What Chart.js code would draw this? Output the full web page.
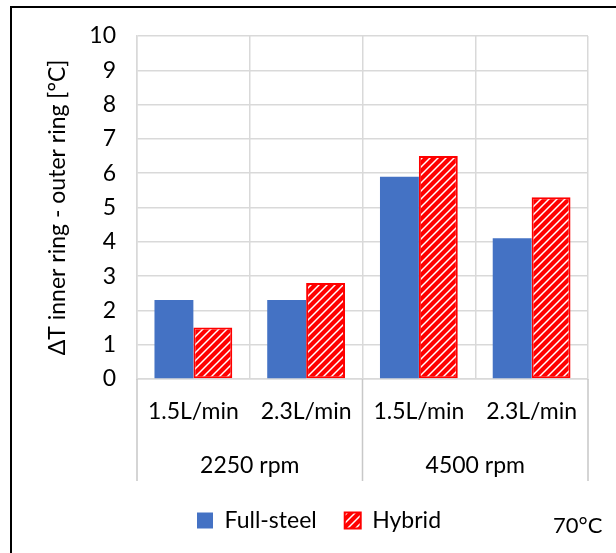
<!DOCTYPE html>
<html><head><meta charset="utf-8">
<script src="https://cdn.jsdelivr.net/npm/chart.js@4/dist/chart.umd.min.js"></script>
<style>
html,body{margin:0;padding:0;background:#fff;width:616px;height:553px;overflow:hidden}
#wrap{position:absolute;left:0;top:0;width:616px;height:553px}
#frame{position:absolute;left:10px;top:6px;width:640px;height:600px;border-left:2px solid #000;border-top:2px solid #000;pointer-events:none}
#note{position:absolute;left:553px;top:511px;font:22px Lato;color:#000;white-space:nowrap}
</style></head><body>
<div id="wrap"><canvas id="c" width="616" height="553"></canvas></div>
<div id="frame"></div>
<div id="note">70°C</div>
<script>
const categories = ['1.5L/min', '2.3L/min', '1.5L/min', '2.3L/min'];
const groups = ['2250 rpm', '4500 rpm'];
const seriesNames = ['Full-steel', 'Hybrid'];
const fullSteel = [2.3, 2.3, 5.9, 4.1];
const hybrid = [1.5, 2.8, 6.5, 5.3];
const yTitle = 'ΔT inner ring - outer ring [°C]';
const yMin = 0, yMax = 10, yStep = 1;

function hatch() {
  const s = 8;
  const t = document.createElement('canvas');
  t.width = s; t.height = s;
  const g = t.getContext('2d');
  g.fillStyle = '#ffffff';
  g.fillRect(0, 0, s, s);
  g.strokeStyle = '#ff0000';
  g.lineWidth = 4.2;
  g.lineCap = 'square';
  g.beginPath();
  for (const o of [-s, 0, s]) {
    g.moveTo(o - 1, s + 1); g.lineTo(o + s + 1, -1);
  }
  g.stroke();
  return g.createPattern(t, 'repeat');
}

const FONT = 'Lato';
const FS = 23;
const GRID = '#d9d9d9';

const separators = {
  id: 'separators',
  afterDraw(chart) {
    const x = chart.scales.x, x2 = chart.scales.x2;
    const ctx = chart.ctx;
    const mid = (x.getPixelForValue(1) + x.getPixelForValue(2)) / 2;
    ctx.save();
    ctx.strokeStyle = '#c8c8c8';
    ctx.lineWidth = 1.5;
    ctx.beginPath();
    for (const px of [x.left, mid, x.right]) {
      ctx.moveTo(px, x.top);
      ctx.lineTo(px, x2.bottom);
    }
    ctx.stroke();
    ctx.restore();
  }
};

new Chart(document.getElementById('c'), {
  type: 'bar',
  data: {
    labels: categories,
    datasets: [
      { label: seriesNames[0], data: fullSteel, backgroundColor: '#4472c4', borderWidth: 0, xAxisID: 'x' },
      { label: seriesNames[1], data: hybrid, backgroundColor: hatch(), borderColor: '#ff0000', borderWidth: 2, borderSkipped: false, xAxisID: 'x' }
    ]
  },
  options: {
    responsive: false,
    devicePixelRatio: 1,
    animation: false,
    datasets: { bar: { categoryPercentage: 0.69, barPercentage: 1 } },
    layout: { padding: { left: 50, right: 28, top: 36, bottom: 11 } },
    scales: {
      y: {
        min: yMin, max: yMax,
        afterFit(s) { s.width = 87; },
        ticks: { stepSize: yStep, color: '#000', font: { family: FONT, size: FS }, padding: 21 },
        grid: { color: GRID, lineWidth: 1.5, drawTicks: false },
        border: { color: GRID, width: 1.5 },
        title: { display: true, text: yTitle, color: '#000', font: { family: FONT, size: FS }, padding: { top: -6, bottom: 0 } }
      },
      x: {
        position: 'bottom',
        afterFit(s) { s.height = 45; },
        ticks: { color: '#000', font: { family: FONT, size: FS }, padding: 19, maxRotation: 0, autoSkip: false },
        grid: { color: GRID, lineWidth: 1.5, drawTicks: false, offset: true },
        border: { color: GRID, width: 1.5 }
      },
      x2: {
        type: 'category',
        labels: groups,
        position: 'bottom',
        offset: true,
        afterFit(s) { s.height = 57; },
        ticks: { color: '#000', font: { family: FONT, size: FS }, padding: 28, maxRotation: 0 },
        grid: { display: false, drawTicks: false },
        border: { display: false }
      }
    },
    plugins: {
      legend: {
        position: 'bottom',
        labels: { color: '#000', font: { family: FONT, size: FS }, boxWidth: 16, boxHeight: 16, padding: 28 }
      },
      tooltip: { enabled: false }
    }
  },
  plugins: [separators]
});
</script>
</body></html>
